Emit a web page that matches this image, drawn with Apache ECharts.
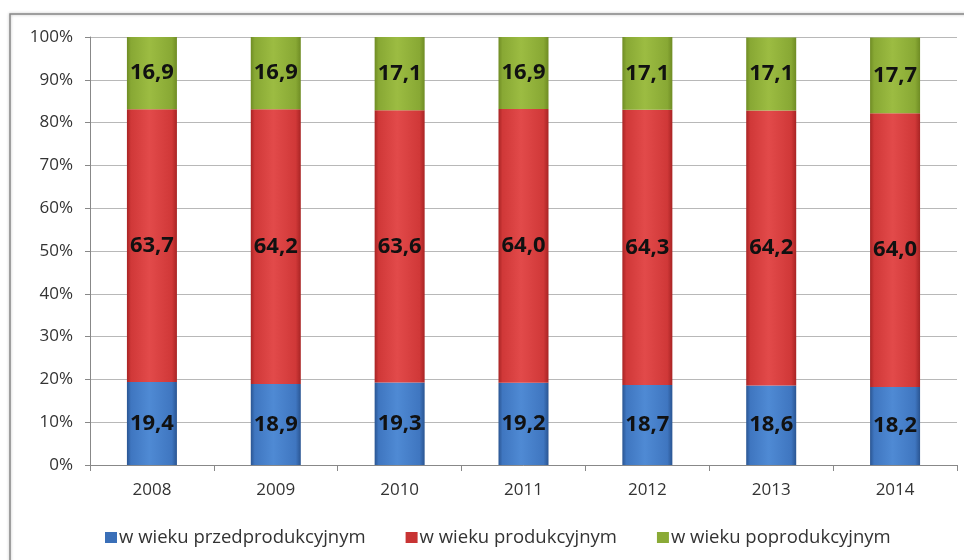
<!DOCTYPE html>
<html><head><meta charset="utf-8">
<script src="https://cdn.jsdelivr.net/npm/echarts@6/dist/echarts.min.js"></script>
<style>html,body{margin:0;padding:0;background:#fff}#c{width:964px;height:560px}</style>
</head><body><div id="c"></div>
<script>
const years = ['2008','2009','2010','2011','2012','2013','2014'];
const przed = [19.4,18.9,19.3,19.2,18.7,18.6,18.2];
const prod = [63.7,64.2,63.6,64.0,64.3,64.2,64.0];
const popr = [16.9,16.9,17.1,16.9,17.1,17.1,17.7];
const seriesNames = ['w wieku przedprodukcyjnym','w wieku produkcyjnym','w wieku poprodukcyjnym'];

const FONT = '"Open Sans", "DejaVu Sans", sans-serif';
function grad(dark, light, mid){
  return new echarts.graphic.LinearGradient(0,0,1,0,[
    {offset:0,color:dark},{offset:0.08,color:mid},{offset:0.45,color:light},{offset:0.9,color:mid},{offset:1,color:dark}]);
}
const colors = [
  grad('#2a5592','#4f8ad4','#3f76c0'),
  grad('#a82424','#e24a4a','#d03838'),
  grad('#6f8c24','#9cbc42','#88a834')
];
const legendColors = ['#3a6fb8','#c83434','#8aaa36'];
const dataSets = [przed, prod, popr];
const chart = echarts.init(document.getElementById('c'));
chart.setOption({
  animation:false,
  textStyle:{fontFamily:FONT},
  graphic:[{type:'rect',shape:{x:10,y:14,width:960,height:560},style:{fill:'none',stroke:'#888',lineWidth:1.5,shadowBlur:3,shadowColor:'rgba(0,0,0,0.3)'},silent:true,z:-1}],
  grid:{left:90,right:7,top:37,bottom:95},
  legend:{top:523,left:100,itemWidth:12,itemHeight:11,itemGap:40,icon:'rect',
    textStyle:{fontSize:18.5,color:'#333',fontFamily:FONT,padding:[0,0,0,-3]},
    data:seriesNames.map((n,i)=>({name:n,itemStyle:{color:legendColors[i]}}))},
  xAxis:{type:'category',data:years,
    axisLine:{lineStyle:{color:'#888'}},
    axisTick:{show:true,length:6,lineStyle:{color:'#888'}},
    axisLabel:{fontSize:17,color:'#333',margin:17,fontFamily:FONT}},
  yAxis:{type:'value',min:0,max:100,interval:10,
    axisLine:{show:true,lineStyle:{color:'#888'}},
    axisTick:{show:true,length:5,lineStyle:{color:'#888'}},
    splitLine:{lineStyle:{color:'#b8b8b8'}},
    axisLabel:{formatter:'{value}%',fontSize:17,color:'#333',margin:17,fontFamily:FONT}},
  series:dataSets.map((d,i)=>({
    name:seriesNames[i],type:'bar',stack:'a',barWidth:50,data:d,
    itemStyle:{color:colors[i]},
    label:{show:true,position:'inside',fontSize:22,fontWeight:'bold',color:'#111',fontFamily:FONT,
      formatter:p=>p.value.toFixed(1).replace('.',',')}
  }))
});
</script></body></html>
